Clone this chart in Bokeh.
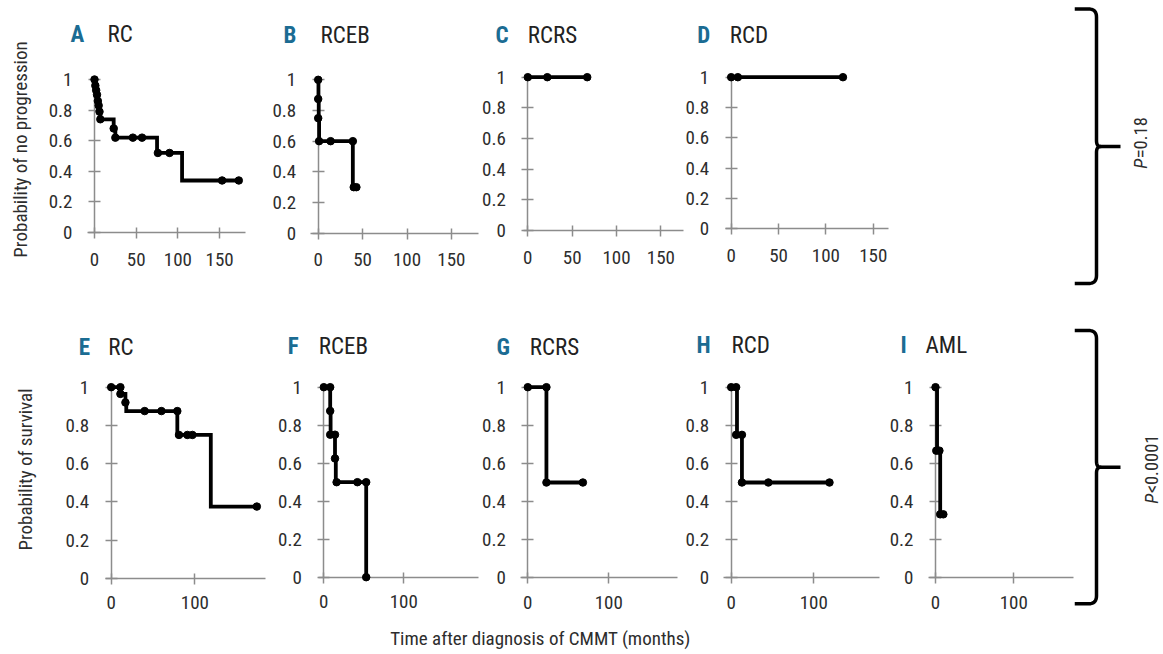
import numpy as np
from bokeh.plotting import figure
from bokeh.models import Range1d, Label, FixedTicker, CustomJSTickFormatter
from bokeh.layouts import row, column
from bokeh.embed import file_html
from bokeh.resources import INLINE

FONT = "'Liberation Sans Narrow', 'Roboto Condensed', 'DejaVu Sans Condensed', 'Liberation Sans', sans-serif"
AXIS = "#8c8c8c"
TXT = "#2d2d2d"
BLUE = "#1b6c93"

# ---------------- data ----------------
y_ticks = [0, 0.2, 0.4, 0.6, 0.8, 1]
x_ticks_top = [0, 50, 100, 150]
x_ticks_bottom = [0, 100]

# A  RC  - probability of no progression
a_time = [0, 1, 2, 3, 4, 5, 6, 7, 23, 25, 75, 105, 173]
a_prob = [1.0, 0.96, 0.93, 0.90, 0.86, 0.83, 0.79, 0.74, 0.68, 0.62, 0.52, 0.34, 0.34]
a_mark_t = [0, 1, 2, 3, 4, 5, 6, 7, 23, 25, 46, 57, 76, 90, 153, 173]
a_mark_p = [1.0, 0.96, 0.93, 0.90, 0.86, 0.83, 0.79, 0.74, 0.68, 0.62, 0.62, 0.62, 0.52, 0.52, 0.34, 0.34]

# B  RCEB
b_time = [0, 0.3, 0.6, 1, 39, 43]
b_prob = [1.0, 0.875, 0.75, 0.6, 0.3, 0.3]
b_mark_t = [0, 0, 0, 1, 14, 39, 40, 43]
b_mark_p = [1.0, 0.875, 0.75, 0.6, 0.6, 0.6, 0.3, 0.3]

# C  RCRS
c_time = [0, 67]
c_prob = [1.0, 1.0]
c_mark_t = [0, 22, 67]
c_mark_p = [1.0, 1.0, 1.0]

# D  RCD
d_time = [0, 118]
d_prob = [1.0, 1.0]
d_mark_t = [0, 7, 118]
d_mark_p = [1.0, 1.0, 1.0]

# E  RC  - probability of survival
e_time = [0, 11, 17, 18, 79, 119, 174]
e_prob = [1.0, 0.965, 0.92, 0.875, 0.75, 0.375, 0.375]
e_mark_t = [0, 11, 11, 17, 40, 60, 79, 81, 91, 97, 174]
e_mark_p = [1.0, 1.0, 0.965, 0.92, 0.875, 0.875, 0.875, 0.75, 0.75, 0.75, 0.375]

# F  RCEB
f_time = [0, 8, 8.5, 14, 15, 53]
f_prob = [1.0, 0.875, 0.75, 0.625, 0.5, 0.0]
f_mark_t = [0, 8, 8, 8, 14, 14, 16, 42, 53, 53]
f_mark_p = [1.0, 1.0, 0.875, 0.75, 0.75, 0.625, 0.5, 0.5, 0.5, 0.0]

# G  RCRS
g_time = [0, 23, 68]
g_prob = [1.0, 0.5, 0.5]
g_mark_t = [0, 23, 23, 68]
g_mark_p = [1.0, 1.0, 0.5, 0.5]

# H  RCD
h_time = [0, 7, 13, 119]
h_prob = [1.0, 0.75, 0.5, 0.5]
h_mark_t = [0, 6, 6, 13, 13, 45, 119]
h_mark_p = [1.0, 1.0, 0.75, 0.75, 0.5, 0.5, 0.5]

# I  AML
i_time = [0, 2, 6, 10]
i_prob = [1.0, 0.667, 0.333, 0.333]
i_mark_t = [0, 1, 5, 6, 10]
i_mark_p = [1.0, 0.667, 0.667, 0.333, 0.333]

letters = ["A", "B", "C", "D", "E", "F", "G", "H", "I"]
names = ["RC", "RCEB", "RCRS", "RCD", "RC", "RCEB", "RCRS", "RCD", "AML"]
ylabel_top = "Probability of no progression"
ylabel_bottom = "Probability of survival"
xlabel = "Time after diagnosis of CMMT (months)"
p_top = "=0.18"
p_bottom = "<0.0001"

# ---------------- layout geometry (screen pixels) ----------------
# fig: (left, right, top, bottom); x0/y0: screen position of data 0; kx/ky: px per unit
# lx/nx: left of letter / name; ty: vertical centre of title text; xs: x tick label standoff
G = [
    dict(fig=(0, 250, 0, 305), x0=94.0, kx=0.834, y0=232.0, ky=153.0, xb=(87, 245), lx=70, nx=107, ty=33.5, xs=14),
    dict(fig=(250, 481, 0, 305), x0=317.7, kx=0.888, y0=232.7, ky=153.4, xb=(310, 478), lx=283, nx=320, ty=34.5, xs=14),
    dict(fig=(481, 684, 0, 305), x0=527.3, kx=0.887, y0=230.0, ky=153.3, xb=(523, 683), lx=495, nx=527.3, ty=35, xs=14),
    dict(fig=(684, 892, 0, 305), x0=730.7, kx=0.947, y0=228.3, ky=151.6, xb=(725, 888), lx=696.7, nx=729.3, ty=34.5, xs=14),
    dict(fig=(0, 268, 305, 616), x0=110.7, kx=0.837, y0=577.7, ky=191.0, xb=(105, 265), lx=78.3, nx=107.7, ty=346.7, xs=12),
    dict(fig=(268, 480, 305, 616), x0=323.3, kx=0.800, y0=576.7, ky=190.0, xb=(318, 478), lx=287.3, nx=318.3, ty=345.7, xs=12),
    dict(fig=(480, 679, 305, 616), x0=527.3, kx=0.810, y0=577.3, ky=190.6, xb=(520, 677), lx=496, nx=529.3, ty=346.7, xs=12),
    dict(fig=(679, 881, 305, 616), x0=730.7, kx=0.826, y0=577.3, ky=190.6, xb=(723, 879), lx=696, nx=731, ty=344.5, xs=12),
    dict(fig=(881, 1074, 305, 616), x0=935.0, kx=0.783, y0=577.3, ky=190.6, xb=(928, 1073), lx=900, nx=925, ty=344.5, xs=12),
]

series = [
    (a_time, a_prob, a_mark_t, a_mark_p),
    (b_time, b_prob, b_mark_t, b_mark_p),
    (c_time, c_prob, c_mark_t, c_mark_p),
    (d_time, d_prob, d_mark_t, d_mark_p),
    (e_time, e_prob, e_mark_t, e_mark_p),
    (f_time, f_prob, f_mark_t, f_mark_p),
    (g_time, g_prob, g_mark_t, g_mark_p),
    (h_time, h_prob, h_mark_t, h_mark_p),
    (i_time, i_prob, i_mark_t, i_mark_p),
]


def base_fig(w, h, xr, yr, axes=True):
    kw = dict(width=int(w), height=int(h), x_range=xr, y_range=yr,
              output_backend="svg", toolbar_location=None, min_border=0)
    if not axes:
        kw.update(x_axis_type=None, y_axis_type=None)
    p = figure(**kw)
    p.min_border_left = p.min_border_right = p.min_border_top = p.min_border_bottom = 0
    p.outline_line_color = None
    p.grid.visible = False
    p.background_fill_color = "white"
    p.border_fill_color = "white"
    return p


def make_panel(i):
    g = G[i]
    t, s, mt, mp = series[i]
    fl, fr, ft, fb = g["fig"]
    x0, kx, y0, ky = g["x0"], g["kx"], g["y0"], g["ky"]
    sx = lambda v: (v - x0) / kx
    sy = lambda v: (y0 - v) / ky
    p = base_fig(fr - fl, fb - ft, Range1d(sx(fl), sx(fr)), Range1d(sy(fb), sy(ft)))
    xa, ya = p.xaxis[0], p.yaxis[0]
    xa.fixed_location = 0
    ya.fixed_location = 0
    xa.bounds = (sx(g["xb"][0]), sx(g["xb"][1]))
    ya.bounds = (0, 1)
    xa.ticker = FixedTicker(ticks=x_ticks_top if i < 4 else x_ticks_bottom)
    ya.ticker = FixedTicker(ticks=y_ticks)
    ya.formatter = CustomJSTickFormatter(code="return String(tick)")
    for ax in (xa, ya):
        ax.level = "underlay"
        ax.axis_line_color = AXIS
        ax.axis_line_width = 1.5
        ax.major_tick_line_color = AXIS
        ax.major_tick_line_width = 1.5
        ax.minor_tick_line_color = None
        ax.major_label_text_font = FONT
        ax.major_label_text_font_size = "19px"
        ax.major_label_text_color = TXT
    ya.major_tick_in = 6
    ya.major_tick_out = 6
    ya.major_label_standoff = 16
    xa.major_tick_in = 5
    xa.major_tick_out = 6
    xa.major_label_standoff = g["xs"]

    p.step(t, s, mode="after", line_color="black", line_width=3.8, line_join="miter")
    p.scatter(mt, mp, size=7.5, color="black")

    p.add_layout(Label(x=sx(g["lx"]), y=sy(g["ty"]), text=letters[i], text_font=FONT,
                       text_font_size="23px", text_font_style="bold", text_color=BLUE,
                       text_align="left", text_baseline="middle"))
    p.add_layout(Label(x=sx(g["nx"]), y=sy(g["ty"]), text=names[i], text_font=FONT,
                       text_font_size="23px", text_color="#222222",
                       text_align="left", text_baseline="middle"))
    if i == 0:
        p.add_layout(Label(x=sx(20), y=sy(149), text=ylabel_top, angle=np.pi / 2, text_font=FONT,
                           text_font_size="19px", text_color=TXT,
                           text_align="center", text_baseline="middle"))
    if i == 4:
        p.add_layout(Label(x=sx(25), y=sy(469), text=ylabel_bottom, angle=np.pi / 2, text_font=FONT,
                           text_font_size="19px", text_color=TXT,
                           text_align="center", text_baseline="middle"))
    return p


panels = [make_panel(i) for i in range(9)]

# x label strip
xlab = base_fig(1074, 37, Range1d(0, 1074), Range1d(653, 616), axes=False)
xlab.add_layout(Label(x=540, y=638, text=xlabel, text_font=FONT, text_font_size="19px",
                      text_color=TXT, text_align="center", text_baseline="middle"))

# right strip: brackets and P values
rfig = base_fig(88, 653, Range1d(1074, 1162), Range1d(653, 0), axes=False)


def quad(p0, c, p1, n=10):
    tt = np.linspace(0, 1, n)
    x = (1 - tt) ** 2 * p0[0] + 2 * (1 - tt) * tt * c[0] + tt ** 2 * p1[0]
    y = (1 - tt) ** 2 * p0[1] + 2 * (1 - tt) * tt * c[1] + tt ** 2 * p1[1]
    return list(x), list(y)


def bracket(fig, y_top, y_mid, y_bot, x_hook=1074, x_spine=1096, x_tip=1120, r=8, rm=6):
    xs, ys = [x_hook], [y_top]
    for seg in (quad((x_spine - r, y_top), (x_spine, y_top), (x_spine, y_top + r)),
                quad((x_spine, y_mid - rm), (x_spine, y_mid), (x_spine + 4, y_mid)),
                quad((x_spine + 4, y_mid), (x_spine, y_mid), (x_spine, y_mid + rm)),
                quad((x_spine, y_bot - r), (x_spine, y_bot), (x_spine - r, y_bot))):
        xs += seg[0]
        ys += seg[1]
    xs.append(x_hook)
    ys.append(y_bot)
    fig.line(xs, ys, line_color="black", line_width=3.5, line_join="round")
    fig.line([x_spine + 3, x_tip], [y_mid, y_mid], line_color="black", line_width=3.5)


bracket(rfig, 8.5, 146, 283)
bracket(rfig, 330, 466.7, 603.3)

for (bx, by, txt_rest) in ((1140.8, 168.3, p_top), (1151.7, 503.3, p_bottom)):
    rfig.add_layout(Label(x=bx, y=by, text="P", angle=np.pi / 2, text_font=FONT, text_font_size="18.5px",
                          text_font_style="italic", text_color=TXT, text_align="left",
                          text_baseline="middle"))
    rfig.add_layout(Label(x=bx, y=by - 10.5, text=txt_rest, angle=np.pi / 2, text_font=FONT,
                          text_font_size="18.5px", text_color=TXT, text_align="left",
                          text_baseline="middle"))

layout = row(column(row(*panels[:4]), row(*panels[4:]), xlab), rfig)

open("out.html", "w").write(file_html(layout, INLINE))
